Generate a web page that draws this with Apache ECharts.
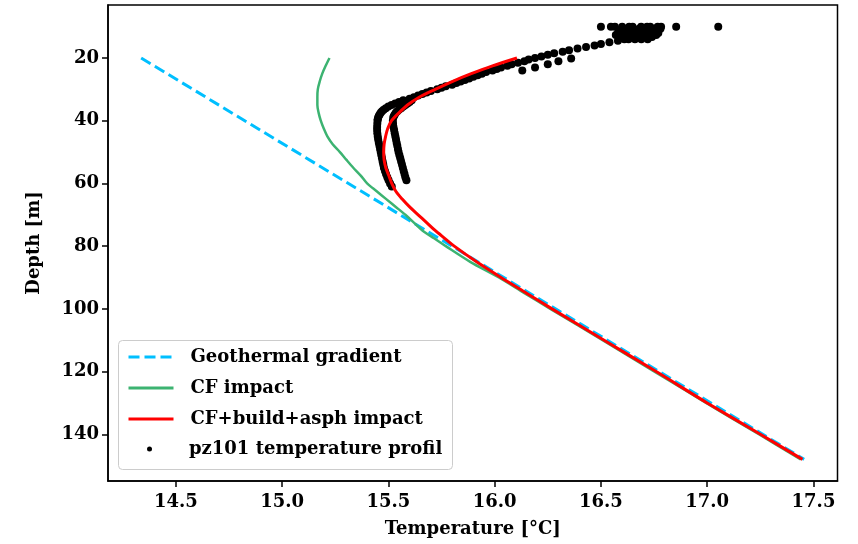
<!DOCTYPE html>
<html>
<head>
<meta charset="utf-8">
<title>Temperature profile</title>
<script src="https://cdn.jsdelivr.net/npm/echarts@6.0.0/dist/echarts.min.js"></script>
<style>
  html, body { margin: 0; padding: 0; background: #fff; }
  #chart { width: 858px; height: 544px; }
</style>
</head>
<body>
<div id="chart"></div>
<script>
// tick labels
const tempTicks = [14.5, 15.0, 15.5, 16.0, 16.5, 17.0, 17.5];
const depthTicks = [20, 40, 60, 80, 100, 120, 140];

// geothermal gradient (straight line)
const gradDepth = [20, 148];
const gradTemp = [14.337, 17.456];

// CF impact
const cfDepth = [20, 22.5, 25, 27.5, 30, 32.5, 35, 37.5, 40, 42.5, 45, 47.5, 50, 52.5, 55, 57.5, 60,
  62.5, 65, 67.5, 70, 72.5, 75, 77.5, 80, 85, 90, 95, 100, 110, 120, 130, 140, 148];
const cfTemp = [15.223, 15.205, 15.189, 15.177, 15.168, 15.166, 15.166, 15.172, 15.182, 15.196, 15.213,
  15.238, 15.272, 15.303, 15.335, 15.37, 15.40, 15.445, 15.49, 15.535, 15.58, 15.62, 15.66, 15.715,
  15.77, 15.885, 16.02, 16.14, 16.262, 16.508, 16.752, 16.995, 17.243, 17.44];

// CF+build+asph impact
const allDepth = [20, 22.5, 25, 27.5, 30, 32.5, 35, 37.5, 40, 42.5, 45, 47.5, 50, 52.5, 55, 57.5, 60,
  62.5, 65, 67.5, 70, 72.5, 75, 77.5, 80, 85, 90, 95, 100, 110, 120, 130, 140, 148];
const allTemp = [16.105, 15.99, 15.89, 15.80, 15.72, 15.645, 15.59, 15.55, 15.515, 15.497, 15.487,
  15.48, 15.478, 15.48, 15.488, 15.502, 15.516, 15.535, 15.565, 15.60, 15.64, 15.68, 15.72, 15.765,
  15.81, 15.915, 16.03, 16.15, 16.27, 16.515, 16.76, 17.0, 17.25, 17.448];

// pz101 measured profile: shallow cluster
const topDepth = [10, 10, 10, 10, 10, 10, 10, 10, 10, 10, 10, 10, 10,
  10.7, 10.7, 10.7, 10.7, 10.7, 10.7,
  11.3, 11.3, 11.3, 11.3, 11.3, 11.3, 11.3,
  12, 12, 12, 12, 12, 12, 12,
  12.7, 12.7, 12.7, 12.7, 12.7, 12.7, 12.7,
  13.3, 13.3, 13.3, 13.3, 13.3, 13.3,
  14, 14, 14, 14];
const topTemp = [16.50, 16.547, 16.566, 16.60, 16.633, 16.649, 16.689, 16.717, 16.732, 16.767, 16.783, 16.854, 17.052,
  16.60, 16.64, 16.68, 16.72, 16.75, 16.78,
  16.59, 16.62, 16.65, 16.68, 16.71, 16.74, 16.77,
  16.58, 16.61, 16.64, 16.67, 16.70, 16.73, 16.77,
  16.57, 16.60, 16.63, 16.66, 16.69, 16.72, 16.76,
  16.59, 16.62, 16.65, 16.68, 16.71, 16.74,
  16.63, 16.66, 16.69, 16.72];

// pz101 main band
const bandDepth = [14, 14.5, 15, 15.5, 16, 16.5, 17, 17.5, 18, 18.5, 19, 19.5, 20, 20.5, 21, 21.5, 22,
  22.5, 23, 23.5, 24, 24.5, 25, 25.5, 26, 26.5, 27, 27.5, 28, 28.5, 29, 29.5, 30, 30.5, 31, 31.5, 32,
  32.5, 33];
const bandTemp = [16.61, 16.58, 16.54, 16.50, 16.47, 16.43, 16.39, 16.35, 16.32, 16.28, 16.25, 16.22,
  16.19, 16.16, 16.14, 16.11, 16.08, 16.06, 16.03, 16.01, 15.99, 15.96, 15.94, 15.92, 15.90, 15.88,
  15.86, 15.84, 15.82, 15.80, 15.77, 15.75, 15.73, 15.70, 15.68, 15.66, 15.64, 15.62, 15.60];

// pz101 outer branch
const outerDepth = [33.5, 34, 34.5, 35, 35.5, 36, 36.5, 37, 37.5, 38, 38.5, 39, 39.5, 40, 41, 42, 43, 44, 45,
  46, 47, 48, 49, 50, 51, 52, 53, 54, 55, 56, 57, 58, 59, 60, 61];
const outerTemp = [15.57, 15.55, 15.532, 15.515, 15.5, 15.488, 15.478, 15.47, 15.464, 15.459,
  15.455, 15.452, 15.45, 15.449, 15.448, 15.447, 15.447, 15.448, 15.45, 15.452, 15.455, 15.458, 15.461,
  15.464, 15.467, 15.47, 15.473, 15.476, 15.479, 15.484, 15.489, 15.495, 15.501, 15.508, 15.516];

// pz101 inner branch
const innerDepth = [33.5, 34, 34.5, 35, 35.5, 36, 36.5, 37, 37.5, 38, 38.5, 39, 40, 41, 42, 43, 44, 45,
  46, 47, 48, 49, 50, 51, 52, 53, 54, 55, 56, 57, 58, 59];
const innerTemp = [15.61, 15.60, 15.59, 15.58, 15.57, 15.56, 15.55, 15.542, 15.535, 15.53,
  15.526, 15.523, 15.521, 15.522, 15.524, 15.527, 15.53, 15.533, 15.536, 15.539, 15.542, 15.545,
  15.548, 15.552, 15.556, 15.56, 15.564, 15.568, 15.572, 15.576, 15.58, 15.585];

// pz101 stray points under the band
const strayDepth = [24.0, 23.0, 22.0, 21.0, 20.2];
const strayTemp = [16.13, 16.19, 16.25, 16.30, 16.36];

const FONT = 'DejaVu Serif';
const zip = (t, d) => t.map((v, i) => [v, d[i]]);

const profile = [].concat(
  zip(topTemp, topDepth),
  zip(bandTemp, bandDepth),
  zip(outerTemp, outerDepth),
  zip(innerTemp, innerDepth),
  zip(strayTemp, strayDepth)
);

const textBold = { fontFamily: FONT, fontWeight: 'bold', fontSize: 18, color: '#000' };

const chart = echarts.init(document.getElementById('chart'));
chart.setOption({
  animation: false,
  backgroundColor: '#fff',
  grid: {
    left: 108, right: 20.5, top: 5, bottom: 63,
    show: true, borderColor: '#000', borderWidth: 1.5
  },
  xAxis: {
    type: 'value',
    min: 14.181,
    max: 17.613,
    name: 'Temperature [°C]',
    nameLocation: 'middle',
    nameGap: 39,
    nameTextStyle: textBold,
    axisLine: { show: true, onZero: false, lineStyle: { color: '#000', width: 1.5 } },
    axisTick: { show: true, customValues: tempTicks, length: 6, lineStyle: { color: '#000', width: 1.5 } },
    axisLabel: Object.assign({ customValues: tempTicks, margin: 12, formatter: v => v.toFixed(1) }, textBold),
    splitLine: { show: false }
  },
  yAxis: {
    type: 'value',
    inverse: true,
    min: 3.1,
    max: 154.9,
    name: 'Depth [m]',
    nameLocation: 'middle',
    nameGap: 65,
    nameTextStyle: textBold,
    axisLine: { show: true, onZero: false, lineStyle: { color: '#000', width: 1.5 } },
    axisTick: { show: true, customValues: depthTicks, length: 6, lineStyle: { color: '#000', width: 1.5 } },
    axisLabel: Object.assign({ customValues: depthTicks, margin: 9 }, textBold),
    splitLine: { show: false }
  },
  graphic: [{
    type: 'rect',
    left: 118, top: 340,
    z: 8,
    shape: { width: 334, height: 129, r: 4 },
    style: { fill: 'rgba(255,255,255,0.8)', stroke: '#cccccc', lineWidth: 1 }
  }],
  legend: [{
    data: ['Geothermal gradient', 'CF impact', 'CF+build+asph impact'],
    orient: 'vertical',
    left: 127, top: 347,
    padding: 0,
    itemWidth: 45, itemHeight: 14, itemGap: 11,
    selectedMode: false,
    z: 10,
    itemStyle: { opacity: 0 },
    lineStyle: { width: 3 },
    textStyle: Object.assign({ lineHeight: 20, padding: [0, 0, 0, 12] }, textBold)
  }, {
    data: ['pz101 temperature profil'],
    orient: 'vertical',
    left: 147, top: 439,
    padding: 0,
    itemWidth: 5, itemHeight: 5,
    selectedMode: false,
    z: 10,
    itemStyle: { opacity: 1 },
    textStyle: Object.assign({ lineHeight: 20, padding: [0, 0, 0, 32] }, textBold)
  }],
  series: [
    {
      name: 'Geothermal gradient',
      type: 'line',
      data: zip(gradTemp, gradDepth),
      symbol: 'none',
      z: 2,
      lineStyle: { color: '#00BFFF', width: 3, type: [11, 5] },
      itemStyle: { color: '#00BFFF' }
    },
    {
      name: 'CF impact',
      type: 'line',
      data: zip(cfTemp, cfDepth),
      symbol: 'none',
      smooth: 0.3,
      z: 3,
      lineStyle: { color: '#3CB371', width: 2.5 },
      itemStyle: { color: '#3CB371' }
    },
    {
      name: 'pz101 temperature profil',
      type: 'scatter',
      data: profile,
      symbol: 'circle',
      symbolSize: 8,
      z: 4,
      itemStyle: { color: '#000', opacity: 1 }
    },
    {
      name: 'CF+build+asph impact',
      type: 'line',
      data: zip(allTemp, allDepth),
      symbol: 'none',
      smooth: 0.3,
      z: 5,
      lineStyle: { color: '#FF0000', width: 3 },
      itemStyle: { color: '#FF0000' }
    }
  ]
});
</script>
</body>
</html>
